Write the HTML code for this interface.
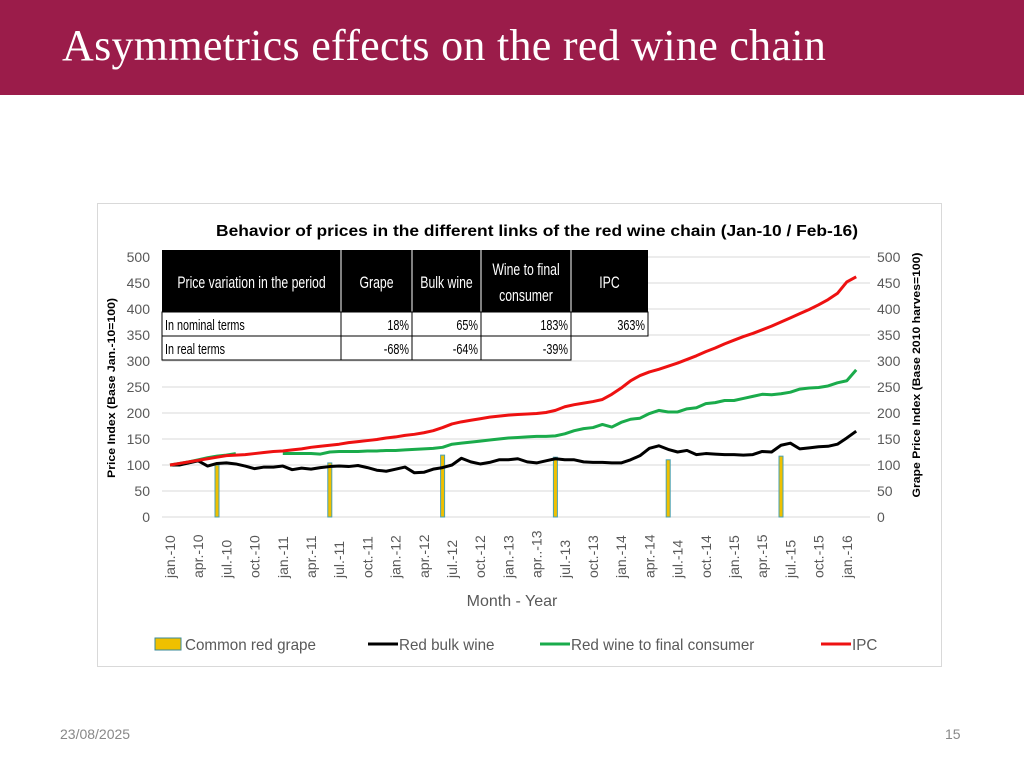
<!DOCTYPE html>
<html><head><meta charset="utf-8"><style>
body{margin:0;width:1024px;height:768px;overflow:hidden;background:#fff;font-family:"Liberation Sans",sans-serif;position:relative}
#hdr{position:absolute;left:0;top:0;width:1024px;height:95px;background:#9b1c4a}
#title{position:absolute;left:62px;top:20px;color:#fff;font-family:"Liberation Serif",serif;font-size:44px;letter-spacing:0.3px}
#box{position:absolute;left:97px;top:203px;width:843px;height:462px;border:1px solid #d9d9d9;background:#fff}
.ft{position:absolute;color:#888;font-size:14px}
</style></head><body>
<div id="hdr"></div>
<div id="title">Asymmetrics effects on the red wine chain</div>
<div id="box"></div>
<svg id="chart" width="1024" height="768" style="position:absolute;left:0;top:0" font-family="Liberation Sans, sans-serif"></svg>
<div class="ft" style="left:60px;top:726px">23/08/2025</div>
<div class="ft" style="left:945px;top:726px">15</div>
<script>
const xLabels=["jan.-10","apr.-10","jul.-10","oct.-10","jan.-11","apr.-11","jul.-11","oct.-11","jan.-12","apr.-12","jul.-12","oct.-12","jan.-13","apr..-13","jul.-13","oct.-13","jan.-14","apr.-14","jul.-14","oct.-14","jan.-15","apr.-15","jul.-15","oct.-15","jan.-16"];
const yTicks=[0,50,100,150,200,250,300,350,400,450,500];
const ipc=[100,103,106,109,112,115,118,119,120,122,124,126,
127,129,131,134,136,138,140,143,145,147,149,152,
154,157,159,162,166,172,179,183,186,189,192,194,
196,197,198,199,201,205,212,216,219,222,226,236,
248,262,272,279,284,290,296,303,310,318,325,333,
340,347,353,360,367,375,383,391,399,408,418,430,
452,462];
const green=[100,103,106,110,114,117,119,122,null,null,null,null,
122,122,122,122,121,125,126,126,126,127,127,128,
128,129,130,131,132,134,140,142,144,146,148,150,
152,153,154,155,155,156,160,166,170,172,178,173,
182,188,190,199,205,202,202,208,210,218,220,224,
224,228,232,236,235,237,240,246,248,249,252,258,
262,283];
const bulk=[100,100,104,108,98,103,104,102,98,93,96,96,
98,91,94,92,95,97,98,97,99,95,90,88,
92,96,85,86,92,95,100,113,106,102,105,110,
110,112,106,104,108,112,110,110,106,105,105,104,
104,110,118,132,137,130,125,128,120,122,121,120,
120,119,120,126,125,138,142,131,133,135,136,140,
152,165];
const grapeIdx=[5,17,29,41,53,65];
const grapeVals=[100,104,119,115,110,117];
const svg=document.getElementById('chart');const NS='http://www.w3.org/2000/svg';
function mk(t,a,txt){const e=document.createElementNS(NS,t);for(const k in a)e.setAttribute(k,a[k]);if(txt!=null)e.textContent=txt;svg.appendChild(e);return e;}
function narrow(t,f){const w=t.getComputedTextLength();t.setAttribute('textLength',w*f);t.setAttribute('lengthAdjust','spacingAndGlyphs');}
const X=i=>170+i*9.4, Y=v=>517-v*0.52;
let e=mk('text',{x:537,y:236,'text-anchor':'middle','font-size':16,'font-weight':'bold',fill:'#000',textLength:642,lengthAdjust:'spacingAndGlyphs'},'Behavior of prices in the different links of the red wine chain (Jan-10 / Feb-16)');


yTicks.forEach(t=>{
 const g=mk('line',{x1:162,x2:870,y1:Y(t),y2:Y(t),stroke:'#d9d9d9'});
 
 
 const l=mk('text',{x:150,y:Y(t)+5,'text-anchor':'end','font-size':14,fill:'#595959'},t);
 
 
 const r=mk('text',{x:877,y:Y(t)+5,'font-size':14,fill:'#595959'},t);
 
 
});
xLabels.forEach((s,k)=>{const x=X(k*3);
 const t=mk('text',{transform:`translate(${x+5},578) rotate(-90)`,'font-size':14,fill:'#595959'},s);
 
 
});
e=mk('text',{x:512,y:606,'text-anchor':'middle','font-size':16,fill:'#595959'},'Month - Year');


e=mk('text',{transform:'translate(115,388) rotate(-90)','text-anchor':'middle','font-size':11,'font-weight':'bold',fill:'#000',textLength:180,lengthAdjust:'spacingAndGlyphs'},'Price Index  (Base Jan.-10=100)');


e=mk('text',{transform:'translate(920,375) rotate(-90)','text-anchor':'middle','font-size':11,'font-weight':'bold',fill:'#000',textLength:245,lengthAdjust:'spacingAndGlyphs'},'Grape Price Index (Base 2010 harves=100)');


grapeIdx.forEach((i,k)=>{
 const b=mk('rect',{x:X(i)-2,y:Y(grapeVals[k]),width:4,height:grapeVals[k]*0.52,fill:'#f0c000',stroke:'#4aa0b0','stroke-width':1});
 
 
});
function line(arr,col,name){let d='',pen=false;arr.forEach((v,i)=>{if(v==null){pen=false;return;}d+=(pen?'L':'M')+X(i)+' '+Y(v)+' ';pen=true;});
 const p=mk('path',{d:d,fill:'none',stroke:col,'stroke-width':3,'stroke-linejoin':'round'});
 
 }
line(bulk,'#000','bulk-wine-line');line(green,'#1aab4b','final-consumer-line');line(ipc,'#ee1111','ipc-line');
e=mk('rect',{x:162,y:250,width:486,height:62,fill:'#000'});


const cols=[162,341,412,481,571,648];
const heads=['Price variation in the period','Grape','Bulk wine','Wine to final|consumer','IPC'];
heads.forEach((h,k)=>{const cx=(cols[k]+cols[k+1])/2;const parts=h.split('|');
 parts.forEach((p,j)=>{const t=mk('text',{x:cx,y:parts.length>1?275+j*26:288,'text-anchor':'middle','font-size':17,fill:'#fff'},p);
 
 
 narrow(t,0.72);});
 if(k>0){const l=mk('line',{x1:cols[k],x2:cols[k],y1:250,y2:312,stroke:'#fff'});}
});
const rows=[['In nominal terms','18%','65%','183%','363%'],['In real terms','-68%','-64%','-39%']];
rows.forEach((r,ri)=>{const y0=312+ri*24;
 r.forEach((c,k)=>{
  const rc=mk('rect',{x:cols[k],y:y0,width:cols[k+1]-cols[k],height:24,fill:'#fff',stroke:'#000','stroke-width':1});
  
  
  const t=mk('text',{x:k==0?cols[0]+3:cols[k+1]-3,y:y0+18,'text-anchor':k==0?'start':'end','font-size':15,fill:'#000'},c);
  
  
  narrow(t,0.72);
 });});
const leg=[['Common red grape',null,155],['Red bulk wine','#000',368],['Red wine to final consumer','#1aab4b',540],['IPC','#ee1111',821]];
leg.forEach(([n,c,x])=>{
 let m;
 if(c==null){m=mk('rect',{x:x,y:638,width:26,height:12,fill:'#f0c000',stroke:'#3a8a9a'});}
 else{m=mk('line',{x1:x,x2:x+30,y1:644,y2:644,stroke:c,'stroke-width':3});}
 
 
 const t=mk('text',{x:x+(c==null?30:31),y:650,'font-size':16,fill:'#595959'},n);
 
 
 narrow(t,0.95);
});
</script>
</body></html>
